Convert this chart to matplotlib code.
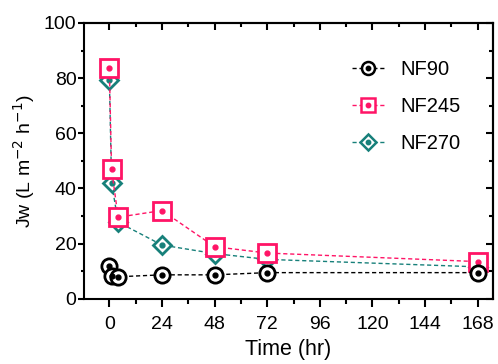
import matplotlib
matplotlib.use("Agg")
import matplotlib.pyplot as plt
from matplotlib.legend_handler import HandlerTuple
from matplotlib.ticker import MultipleLocator

plt.rcParams['font.family'] = ['Liberation Sans', 'DejaVu Sans']

time_hr = [0, 1, 4, 24, 48, 72, 168]
nf90 = [12.0, 8.4, 8.0, 8.7, 8.7, 9.5, 9.5]
nf245 = [83.5, 46.9, 29.6, 32.0, 18.9, 16.6, 13.5]
nf270 = [79.3, 42.0, 27.8, 19.5, 16.4, 14.3, 11.6]

series = [
    ("NF90", nf90, "black", "o", 11),
    ("NF245", nf245, "#FF1466", "s", 12.5),
    ("NF270", nf270, "#17807A", "D", 9.5),
]

fig = plt.figure(figsize=(4.98, 3.64), dpi=100)
ax = fig.add_axes([0.169, 0.179, 0.821, 0.758])

handles = {}
zorders = {"NF90": 5, "NF245": 4, "NF270": 3}
for name, vals, col, mk, ms in series:
    z = zorders[name]
    ax.plot(time_hr, vals, linestyle=(0, (3, 2)), lw=1.0, color=col,
            marker=mk, markersize=ms, markerfacecolor='white',
            markeredgecolor=col, markeredgewidth=2.0, zorder=z)
    ax.plot(time_hr, vals, linestyle='none', marker='o', markersize=3.5,
            color=col, zorder=z)
    h1, = ax.plot([], [], linestyle=(0, (3, 2)), lw=1.0, color=col,
                  marker=mk, markersize=ms * 0.85, markerfacecolor='white',
                  markeredgecolor=col, markeredgewidth=1.8)
    h2, = ax.plot([], [], linestyle='none', marker='o', markersize=3.2, color=col)
    handles[name] = (h1, h2)

ax.set_xlim(-11.5, 175)
ax.set_ylim(0, 100)
ax.set_xticks([0, 24, 48, 72, 96, 120, 144, 168])
ax.xaxis.set_minor_locator(MultipleLocator(12))
ax.yaxis.set_major_locator(MultipleLocator(20))
ax.yaxis.set_minor_locator(MultipleLocator(10))
ax.tick_params(axis='x', which='major', direction='out', length=6, width=1.5,
               labelsize=14, pad=6)
ax.tick_params(axis='x', which='minor', direction='out', length=3.5, width=1.5)
ax.tick_params(axis='y', which='major', direction='out', length=4, width=1.5,
               labelsize=14, pad=1.5)
ax.tick_params(axis='y', which='minor', direction='out', length=2.5, width=1.5)
for s in ax.spines.values():
    s.set_linewidth(1.5)

top = ax.secondary_xaxis('top')
top.set_xticks([0, 24, 48, 72, 96, 120, 144, 168])
top.xaxis.set_minor_locator(MultipleLocator(12))
top.tick_params(which='major', direction='in', length=5, width=1.5, labeltop=False)
top.tick_params(which='minor', direction='in', length=3, width=1.5)
top.spines['top'].set_linewidth(1.5)

right = ax.secondary_yaxis('right')
right.yaxis.set_major_locator(MultipleLocator(20))
right.yaxis.set_minor_locator(MultipleLocator(10))
right.tick_params(which='major', direction='in', length=5, width=1.5, labelright=False)
right.tick_params(which='minor', direction='in', length=3, width=1.5)
right.spines['right'].set_linewidth(1.5)

ax.set_xlabel("Time (hr)", fontsize=15.5, labelpad=5)
ax.set_ylabel("Jw (L m$^{-2}$ h$^{-1}$)", fontsize=14, labelpad=5)

ax.legend([handles[n] for n in ["NF90", "NF245", "NF270"]],
          ["NF90", "NF245", "NF270"],
          handler_map={tuple: HandlerTuple(ndivide=1)},
          loc='upper left', bbox_to_anchor=(0.655, 0.866), borderaxespad=0,
          borderpad=0, frameon=False, fontsize=14.5, handlelength=1.6,
          handletextpad=0.8, labelspacing=0.9)

fig.savefig("out.png", dpi=100)
